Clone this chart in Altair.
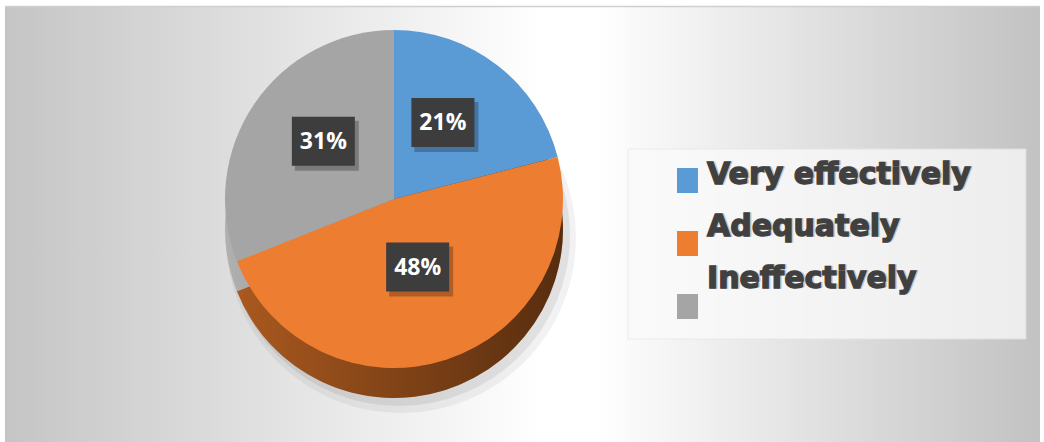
import altair as alt
import pandas as pd

categories = ["Very effectively", "Adequately", "Ineffectively"]
values = [21, 48, 31]
labels = ["21%", "48%", "31%"]

df = pd.DataFrame({"category": categories, "value": values, "label": labels})
one = pd.DataFrame({"k": [0]})

W, H = 1044, 442
CX, CY, R = 394, 199, 169
DEPTH = 30
LCX, LCY, LR = 392, 188, 83
BW, BH = 63, 49

face_colors = ["#5B9BD5", "#ED7D31", "#A5A5A5"]
side_colors = ["#33628f", "#ad5a1f", "#b0b0b0"]

base = alt.Chart(df).transform_window(idx="row_number()")

# background
bg = alt.Chart(one).mark_rect(
    color=alt.LinearGradient(
        gradient="linear", x1=0, y1=0, x2=1, y2=0,
        stops=[
            alt.GradientStop(color="#c5c5c5", offset=0),
            alt.GradientStop(color="#ffffff", offset=0.52),
            alt.GradientStop(color="#ffffff", offset=0.57),
            alt.GradientStop(color="#c2c2c2", offset=1),
        ],
    )
).encode(x=alt.value(5), x2=alt.value(1040), y=alt.value(6), y2=alt.value(H))

topline = alt.Chart(one).mark_rule(color="#cfcfcf", strokeWidth=1.5).encode(
    x=alt.value(5), x2=alt.value(1040), y=alt.value(6.5)
)

# soft shadow under pie
shadow1 = alt.Chart(one).mark_arc(radius=R + 6, theta=0, theta2=6.2832, color="#000000", opacity=0.05).encode(
    x=alt.value(CX + 7), y=alt.value(CY + DEPTH + 9)
)
shadow2 = alt.Chart(one).mark_arc(radius=R + 2, theta=0, theta2=6.2832, color="#000000", opacity=0.07).encode(
    x=alt.value(CX + 5), y=alt.value(CY + DEPTH + 6)
)

# 3D side
side = base.mark_arc(radius=R).encode(
    theta=alt.Theta("value:Q", stack=True),
    order=alt.Order("idx:Q"),
    color=alt.Color("category:N", scale=alt.Scale(domain=categories, range=side_colors), legend=None),
    x=alt.value(CX), y=alt.value(CY + DEPTH),
)
side_shade = alt.Chart(one).mark_arc(
    radius=R, theta=0, theta2=6.2832,
    color=alt.LinearGradient(
        gradient="linear", x1=0, y1=0, x2=1, y2=0,
        stops=[
            alt.GradientStop(color="rgba(0,0,0,0)", offset=0),
            alt.GradientStop(color="rgba(0,0,0,0.5)", offset=1),
        ],
    ),
).encode(x=alt.value(CX), y=alt.value(CY + DEPTH))

# top face
face = base.mark_arc(radius=R).encode(
    theta=alt.Theta("value:Q", stack=True),
    order=alt.Order("idx:Q"),
    color=alt.Color("category:N", scale=alt.Scale(domain=categories, range=face_colors), legend=None),
    x=alt.value(CX), y=alt.value(CY),
)

# data labels
lab = (
    base.transform_joinaggregate(total="sum(value)")
    .transform_window(cum="sum(value)", sort=[alt.SortField("idx")], frame=[None, 0])
    .transform_calculate(mid="(datum.cum - datum.value/2)/datum.total")
    .transform_calculate(
        lx=f"{LCX} + {LR}*sin(2*PI*datum.mid)",
        ly=f"{LCY} - {LR}*cos(2*PI*datum.mid)",
    )
    .transform_calculate(
        bx1=f"datum.lx - {BW/2}", bx2=f"datum.lx + {BW/2}",
        by1=f"datum.ly - {BH/2}", by2=f"datum.ly + {BH/2}",
        sx1=f"datum.lx - {BW/2} + 3", sx2=f"datum.lx + {BW/2} + 4",
        sy1=f"datum.ly - {BH/2} + 4", sy2=f"datum.ly + {BH/2} + 5",
    )
)
lab_shadow = lab.mark_rect(color="#000000", opacity=0.25).encode(
    x=alt.X("sx1:Q", scale=None), x2="sx2:Q",
    y=alt.Y("sy1:Q", scale=None), y2="sy2:Q",
)
lab_box = lab.mark_rect(color="#3d3d3d").encode(
    x=alt.X("bx1:Q", scale=None), x2="bx2:Q",
    y=alt.Y("by1:Q", scale=None), y2="by2:Q",
)
lab_text = lab.mark_text(
    font="Open Sans", fontWeight="bold", fontSize=23, color="#ffffff",
    align="center", baseline="middle", dy=1,
).encode(
    x=alt.X("lx:Q", scale=None), y=alt.Y("ly:Q", scale=None), text="label:N"
)

# legend
legend_box = alt.Chart(one).mark_rect(
    color="#fbfbfb", opacity=0.75, stroke="#e6e6e6", strokeWidth=1
).encode(
    x=alt.value(628), x2=alt.value(1026), y=alt.value(149), y2=alt.value(339)
)
leg = base.transform_calculate(
    sq1="168 + 63*(datum.idx - 1)",
    sq2="193 + 63*(datum.idx - 1)",
    ty="184 + 52*(datum.idx - 1)",
)
leg_sq = leg.mark_rect().encode(
    x=alt.value(677), x2=alt.value(698),
    y=alt.Y("sq1:Q", scale=None), y2="sq2:Q",
    color=alt.Color("category:N", scale=alt.Scale(domain=categories, range=face_colors), legend=None),
)
leg_text_sh = leg.mark_text(
    font="DejaVu Sans", fontWeight="bold", fontSize=30, color="#9a9a9a", opacity=0.5,
    stroke="#9a9a9a", strokeWidth=1.3,
    align="left", baseline="alphabetic",
).encode(x=alt.value(708.5), y=alt.Y("ty:Q", scale=None), text="category:N")
leg_text = leg.mark_text(
    font="DejaVu Sans", fontWeight="bold", fontSize=30, color="#404040",
    stroke="#404040", strokeWidth=1.3,
    align="left", baseline="alphabetic",
).encode(x=alt.value(707), y=alt.Y("ty:Q", scale=None), text="category:N")

chart = (
    alt.layer(
        bg, topline, shadow1, shadow2, side, side_shade, face,
        lab_shadow, lab_box, lab_text,
        legend_box, leg_sq, leg_text_sh, leg_text,
    )
    .resolve_scale(color="independent")
    .properties(width=W, height=H, padding=0, background="#ffffff",
                autosize=alt.AutoSizeParams(type="none"))
    .configure_view(stroke=None)
)

chart.save("out.html", embed_options={"renderer": "svg", "actions": False})
